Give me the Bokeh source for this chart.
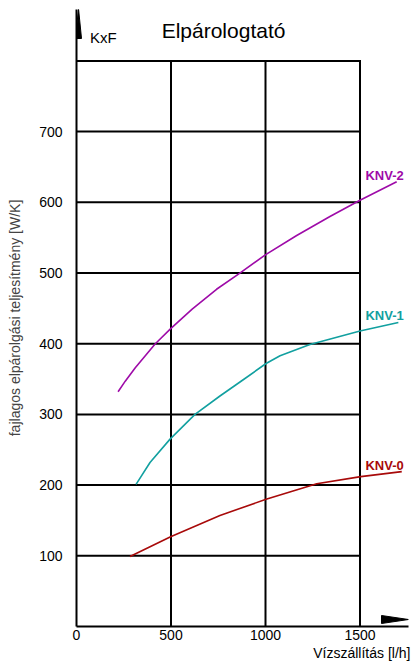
from bokeh.plotting import figure
from bokeh.models import Label, FixedTicker, Range1d, Title
from bokeh.embed import file_html
from bokeh.resources import INLINE

# ---- data ----
knv0_x = [283, 498, 759, 1003, 1271, 1504, 1721]
knv0_y = [99, 127, 157, 180, 202, 212, 219]
knv1_x = [315, 389, 495, 627, 759, 882, 1003, 1077, 1235, 1500, 1703]
knv1_y = [201, 232, 265, 300, 326, 349, 372, 383, 399, 418, 430]
knv2_x = [220, 258, 311, 364, 417, 497, 612, 741, 855, 1001, 1165, 1341, 1500, 1694]
knv2_y = [332, 347, 366, 383, 400, 421, 449, 477, 498, 526, 553, 580, 603, 629]

series_names = ["KNV-2", "KNV-1", "KNV-0"]
series_colors = ["#9E0BA8", "#12A0A0", "#A80A0A"]

x_ticks = [0, 500, 1000, 1500]
y_ticks = [100, 200, 300, 400, 500, 600, 700]
grid_x = [500, 1000, 1500]
grid_y = [100, 200, 300, 400, 500, 600, 700, 800]
grid_x_max = 1500
grid_y_max = 800

title_text = "Elpárologtató"
y_unit_text = "KxF"
x_label_text = "Vízszállítás [l/h]"
y_label_text = "fajlagos elpárolgási teljesítmény [W/K]"

FONT = "Liberation Sans"

W, H = 412, 664
BL, BR, BT, BB = 76, 4, 9, 38
fw, fh = W - BL - BR, H - BT - BB
px_x = 0.189   # pixels per unit
px_y = 0.707
x_end = fw / px_x
y_end = fh / px_y

p = figure(width=W, height=H, output_backend="svg", toolbar_location=None,
           x_range=Range1d(0, x_end), y_range=Range1d(0, y_end),
           min_border_left=BL, min_border_right=BR,
           min_border_top=BT, min_border_bottom=BB)
p.outline_line_color = None
p.xgrid.visible = False
p.ygrid.visible = False
p.background_fill_color = "white"
p.border_fill_color = "white"

for ax, ticks in ((p.xaxis[0], x_ticks), (p.yaxis[0], y_ticks)):
    ax.ticker = FixedTicker(ticks=ticks)
    ax.major_tick_out = 0
    ax.major_tick_in = 0
    ax.minor_tick_out = 0
    ax.minor_tick_in = 0
    ax.axis_line_width = 2
    ax.axis_line_color = "black"
    ax.major_label_text_font = FONT
    ax.major_label_text_font_size = "14px"
    ax.major_label_text_color = "black"

p.xaxis.major_label_standoff = 3
p.yaxis.major_label_standoff = 14
p.yaxis.axis_label = y_label_text
p.yaxis.axis_label_text_font = FONT
p.yaxis.axis_label_text_font_size = "14px"
p.yaxis.axis_label_text_font_style = "normal"
p.yaxis.axis_label_standoff = 13

# x axis caption, right-aligned under the axis
p.add_layout(Title(text=x_label_text, align="right", text_font=FONT, text_font_size="14px",
                   text_font_style="normal", text_color="black", standoff=0, offset=-2),
             "below")

# grid (bounded)
p.segment(x0=grid_x, y0=[0] * len(grid_x), x1=grid_x, y1=[grid_y_max] * len(grid_x),
          line_color="black", line_width=2, line_cap="square")
p.segment(x0=[0] * len(grid_y), y0=grid_y, x1=[grid_x_max] * len(grid_y), y1=grid_y,
          line_color="black", line_width=2, line_cap="square")

# arrows on the axes
ya_c, ya_hw, ya_len = 2 / px_x, 3 / px_x, 29 / px_y
p.patch([ya_c - ya_hw, ya_c + ya_hw, ya_c], [y_end - ya_len, y_end - ya_len, y_end + 1 / px_y],
        fill_color="black", line_color="black", line_width=1)
xa_c, xa_hh, xa_len = 7 / px_y, 4 / px_y, 27 / px_x
p.patch([x_end - xa_len, x_end - xa_len, x_end], [xa_c - xa_hh, xa_c + xa_hh, xa_c],
        fill_color="black", line_color="black", line_width=1)

# curves
for xs, ys, c in ((knv2_x, knv2_y, series_colors[0]),
                  (knv1_x, knv1_y, series_colors[1]),
                  (knv0_x, knv0_y, series_colors[2])):
    p.line(xs, ys, line_color=c, line_width=1.6, line_join="round")

# curve labels
for name, c, yb in zip(series_names, series_colors, (638, 440, 228)):
    p.add_layout(Label(x=1529, y=yb, text=name, text_color=c, text_font=FONT,
                       text_font_size="13px", text_font_style="bold",
                       text_baseline="alphabetic"))

p.add_layout(Label(x=778, y=843, text=title_text, text_font=FONT, text_font_size="21px",
                   text_align="center", text_baseline="alphabetic", text_color="black"))
p.add_layout(Label(x=72, y=833, text=y_unit_text, text_font=FONT, text_font_size="15px",
                   text_baseline="alphabetic", text_color="black"))

open("out.html", "w").write(file_html(p, INLINE))
